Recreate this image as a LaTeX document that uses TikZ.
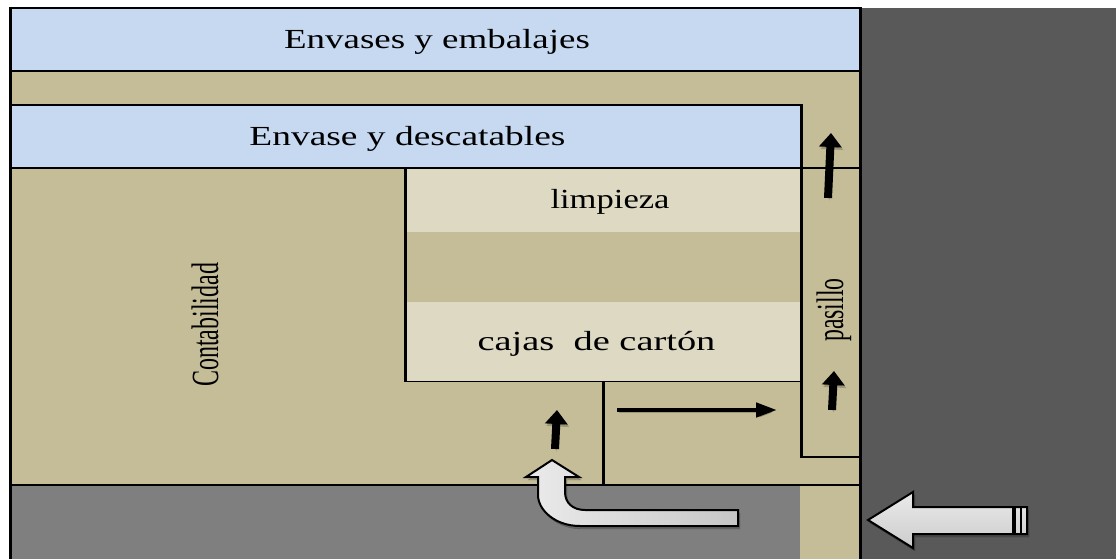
\documentclass[tikz,border=0pt]{standalone}
\usepackage{fontspec}
\setmainfont{Liberation Serif}
\usepackage{graphicx}
\usetikzlibrary{arrows.meta}
\definecolor{beigeroom}{HTML}{C4BD97}
\definecolor{lightroom}{HTML}{DDD9C3}
\definecolor{blueroom}{HTML}{C6D9F1}
\definecolor{darkwall}{HTML}{595959}
\definecolor{greyroad}{HTML}{7F7F7F}
\tikzstyle{wall}=[line width=3.2pt,black]
\tikzstyle{thinwall}=[line width=1.8pt,black]
\tikzstyle{room}=[font=\fontsize{24}{28}\selectfont,inner sep=0pt]
\tikzstyle{blkarrow}=[line width=8pt,-{Triangle[length=14pt,width=22pt]},
preaction={draw,black,opacity=.2,transform canvas={shift={(1.5pt,-2.5pt)}}}]
\tikzstyle{longarrow}=[line width=4.5pt,-{Triangle[length=21pt,width=14pt]},
preaction={draw,black,opacity=.2,transform canvas={shift={(1.5pt,-2.5pt)}}}]
\tikzstyle{whtarrow}=[draw=black,line width=2pt,line join=miter,
preaction={draw=black,fill=black,opacity=.2,transform canvas={shift={(2pt,-3pt)}}}]
\begin{document}
\begin{tikzpicture}[x=1pt,y=-1pt]
\useasboundingbox (0,0) rectangle (1116,559);
% backgrounds
\fill[white] (0,0) rectangle (1116,559);
\fill[beigeroom] (11,8) rectangle (860,559);
\fill[darkwall] (860,8) rectangle (1116,559);
\fill[greyroad] (11,485) rectangle (800,559);
\fill[blueroom] (11,8) rectangle (860,71);
\fill[blueroom] (11,105) rectangle (801,168);
\fill[lightroom] (405,168) rectangle (801,232);
\fill[lightroom] (405,302) rectangle (801,381);
% walls
\draw[thinwall] (11,8) -- (860,8);
\draw[thinwall] (11,71) -- (860,71);
\draw[thinwall] (11,105) -- (801,105);
\draw[thinwall] (11,168) -- (860,168);
\draw[thinwall] (405,381.5) -- (801,381.5);
\draw[thinwall] (801,457) -- (860,457);
\draw[thinwall] (11,485) -- (860,485);
\draw[wall] (10.5,7) -- (10.5,559);
\draw[wall] (860.5,7) -- (860.5,559);
\draw[wall] (801.5,104) -- (801.5,458);
\draw[wall] (405.5,168) -- (405.5,382);
\draw[wall] (603.5,381) -- (603.5,485);
% labels
\node[room] (embalajes) at (437,41.5) {\scalebox{1.54}[1.15]{Envases y embalajes}};
\node[room] (descatables) at (407.5,139) {\scalebox{1.56}[1.15]{Envase y descatables}};
\node[room] (limpieza) at (610,201.5) {\scalebox{1.44}[1.15]{limpieza}};
\node[room] (cajas) at (596.5,343.5) {\scalebox{1.6}[1.15]{cajas\ \ de cartón}};
\node[room,rotate=90] (contabilidad) at (205,325) {\scalebox{1}[1.6]{Contabilidad}};
\node[room,rotate=90] (pasillo) at (834,310) {\scalebox{.99}[1.6]{pasillo}};
% black arrows
\coordinate (up1a) at (555,449);
\coordinate (up1b) at (557,410);
\coordinate (up2a) at (832,410);
\coordinate (up2b) at (834,371);
\coordinate (up3a) at (828,198);
\coordinate (up3b) at (831,133);
\coordinate (righta) at (617,410);
\coordinate (rightb) at (777,410);
\draw[blkarrow] (up1a) -- (up1b);
\draw[blkarrow] (up2a) -- (up2b);
\draw[blkarrow] (up3a) -- (up3b);
\draw[longarrow] (righta) -- (rightb);
% white arrows
\path[whtarrow,left color=white!92!black,right color=black!22!white]
  (552,460) -- (579,477) -- (565,477) -- (565,492)
  .. controls (565,503) and (573,510) .. (585,510)
  -- (738,510) -- (738,526) -- (580,526)
  .. controls (555,526) and (538,510) .. (538,495)
  -- (538,477) -- (526,477) -- cycle;
\path[whtarrow,top color=white!92!black,bottom color=black!20!white]
  (868,520) -- (913,492) -- (913,507) -- (1027,507) -- (1027,534)
  -- (913,534) -- (913,548) -- cycle;
\fill[black] (1012,507) rectangle (1016,534);
\fill[black] (1020,507) rectangle (1022,534);
\end{tikzpicture}
\end{document}
